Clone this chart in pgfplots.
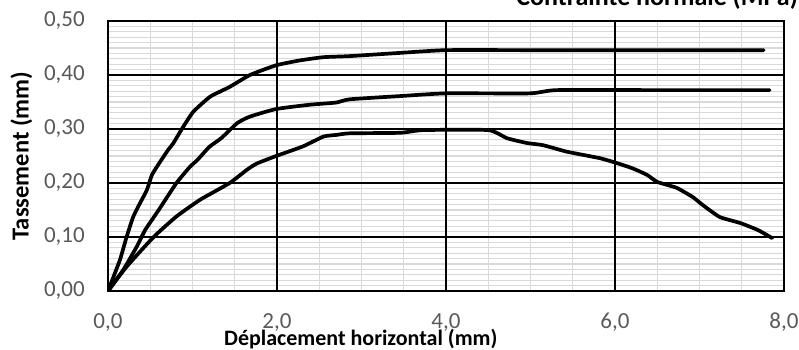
\documentclass[border=0pt]{standalone}
\usepackage{fontspec}
\setmainfont{Carlito}
\usepackage{pgfplots}
\pgfplotsset{compat=1.18}
\definecolor{ticklab}{HTML}{595959}
\definecolor{mgrid}{HTML}{D9D9D9}
\begin{document}
\begin{tikzpicture}
\begin{axis}[
  scale only axis, width=676pt, height=270pt,
  xmin=0, xmax=8, ymin=0, ymax=0.5,
  xtick={0,2,4,6,8}, ytick={0,0.1,0.2,0.3,0.4,0.5},
  minor x tick num=3, minor y tick num=9,
  grid=minor,
  minor grid style={mgrid, line width=1.2pt},
  extra x ticks={2,4,6}, extra y ticks={0.1,0.2,0.3,0.4},
  extra x tick labels={}, extra y tick labels={},
  extra tick style={grid=major, major grid style={black, line width=1.1pt}, tick style={draw=none}},
  axis line style={black, line width=1.2pt},
  tick style={draw=none},
  /pgf/number format/assume math mode=true,
  /pgf/number format/use comma,
  xticklabel style={/pgf/number format/fixed, /pgf/number format/fixed zerofill, /pgf/number format/precision=1,
    font=\fontsize{23}{26}\selectfont, text=ticklab, anchor=base, inner sep=0pt, yshift=-37pt},
  yticklabel style={/pgf/number format/fixed, /pgf/number format/fixed zerofill, /pgf/number format/precision=2,
    font=\fontsize{23}{26}\selectfont, text=ticklab, anchor=east, inner sep=0pt, xshift=-23pt},
  xlabel={Déplacement horizontal (mm)},
  ylabel={Tassement (mm)},
  xlabel style={at={(axis description cs:0.374,-0.2)}, anchor=base, font=\bfseries\fontsize{22}{25}\selectfont, inner sep=0pt},
  ylabel style={at={(axis description cs:-0.128,0.5)}, anchor=center, font=\bfseries\fontsize{24.5}{28}\selectfont, inner sep=0pt},
]
\addplot[black, no markers, line width=3.7pt, line join=round, line cap=round, smooth, tension=0.3] coordinates {
(0,0) (0.14,0.057) (0.22,0.10) (0.30,0.138) (0.38,0.163) (0.46,0.187) (0.52,0.215) (0.62,0.24)
(0.71,0.261) (0.77,0.273) (0.89,0.304) (1.01,0.332) (1.21,0.36) (1.44,0.378) (1.68,0.40)
(1.99,0.418) (2.27,0.427) (2.55,0.433) (2.86,0.435) (3.46,0.441) (4.0,0.446) (5.0,0.446) (6.0,0.446) (7.76,0.446)
};
\addplot[black, no markers, line width=3.7pt, line join=round, line cap=round, smooth, tension=0.3] coordinates {
(0,0) (0.18,0.039) (0.34,0.082) (0.44,0.113) (0.60,0.15) (0.81,0.20) (0.97,0.23) (1.06,0.243)
(1.20,0.267) (1.34,0.283) (1.53,0.311) (1.68,0.323) (1.99,0.337) (2.39,0.345) (2.70,0.349)
(2.86,0.355) (3.46,0.361) (4.0,0.366) (4.99,0.366) (5.31,0.372) (6.5,0.372) (7.83,0.372)
};
\addplot[black, no markers, line width=3.7pt, line join=round, line cap=round, smooth, tension=0.3] coordinates {
(0,0) (0.22,0.045) (0.54,0.10) (0.81,0.138) (1.09,0.169) (1.44,0.20) (1.64,0.224) (1.76,0.236)
(1.99,0.25) (2.31,0.268) (2.55,0.286) (2.70,0.289) (2.86,0.292) (3.46,0.293) (3.73,0.298)
(4.5,0.298) (4.72,0.283) (4.96,0.274) (5.15,0.270) (5.43,0.258) (5.82,0.246) (6.02,0.237)
(6.21,0.227) (6.38,0.215) (6.50,0.202) (6.73,0.191) (6.92,0.174) (7.04,0.159) (7.24,0.137)
(7.48,0.126) (7.69,0.113) (7.86,0.098)
};
\coordinate (SW) at (rel axis cs:0,0);
\coordinate (NE) at (rel axis cs:1,1);
\end{axis}
\node[anchor=base east, inner sep=0pt, font=\bfseries\fontsize{26}{30}\selectfont] at ([shift={(14pt,16pt)}]NE) {Contrainte normale (MPa)};
\pgfresetboundingbox
\useasboundingbox ([shift={(-108pt,-58pt)}]SW) rectangle ++(799pt,349pt);
\end{tikzpicture}
\end{document}
